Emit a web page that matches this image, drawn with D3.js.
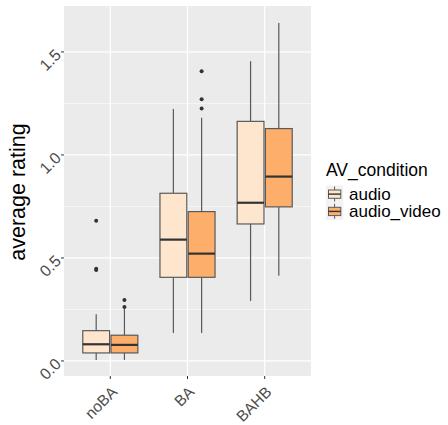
<!DOCTYPE html>
<html lang="en">
<head>
<meta charset="UTF-8">
<title>average rating by AV_condition</title>
<script src="https://cdn.jsdelivr.net/npm/d3@7"></script>
<style>
  body { margin: 0; background: #fff; }
  svg text { font-family: "Liberation Sans", Arial, sans-serif; }
</style>
</head>
<body>
<div id="chart"></div>
<script>
// ---- data ----
const categories = ["noBA", "BA", "BAHB"];
const conditions = ["audio", "audio_video"];
const condColors = ["#FEE6CE", "#FDAE6B"];
// [whiskerLow, q1, median, q3, whiskerHigh] per category, per condition
const audioStats = [
  [0.005, 0.039, 0.081, 0.147, 0.227],
  [0.136, 0.406, 0.589, 0.814, 1.223],
  [0.291, 0.665, 0.768, 1.163, 1.455]
];
const videoStats = [
  [0.005, 0.039, 0.078, 0.125, 0.252],
  [0.136, 0.406, 0.521, 0.725, 1.180],
  [0.414, 0.748, 0.895, 1.128, 1.640]
];
const audioOutliers = [[0.68, 0.442, 0.447], [], []];
const videoOutliers = [[0.296, 0.262], [1.406, 1.27, 1.225], []];
const yTicks = [0, 0.5, 1.0, 1.5];
const yMinor = [0.25, 0.75, 1.25];

// ---- layout ----
const W = 448, H = 425;
const panel = { left: 64, right: 311, top: 6, bottom: 376 };

const svg = d3.select("#chart").append("svg").attr("width", W).attr("height", H);

// discrete x like ggplot: 0.6 of a step of padding on each side
const x = d3.scalePoint().domain(categories)
  .range([panel.left, panel.right]).padding(0.6);
const step = x.step();
const dodge = d3.scaleBand().domain(conditions).range([-step * 0.375, step * 0.375]).padding(0.05);

const y = d3.scaleLinear().domain([-0.073, 1.723]).range([panel.bottom, panel.top]);

// panel + grid
svg.append("rect").attr("x", panel.left).attr("y", panel.top)
  .attr("width", panel.right - panel.left).attr("height", panel.bottom - panel.top)
  .attr("fill", "#EBEBEB");

svg.append("g").selectAll("line").data(yMinor).join("line")
  .attr("x1", panel.left).attr("x2", panel.right)
  .attr("y1", d => y(d)).attr("y2", d => y(d))
  .attr("stroke", "#fff").attr("stroke-width", 0.6);
svg.append("g").selectAll("line").data(yTicks).join("line")
  .attr("x1", panel.left).attr("x2", panel.right)
  .attr("y1", d => y(d)).attr("y2", d => y(d))
  .attr("stroke", "#fff").attr("stroke-width", 1.2);
svg.append("g").selectAll("line").data(categories).join("line")
  .attr("x1", d => x(d)).attr("x2", d => x(d))
  .attr("y1", panel.top).attr("y2", panel.bottom)
  .attr("stroke", "#fff").attr("stroke-width", 1.2);

// boxes
const boxes = [];
categories.forEach((c, i) => {
  boxes.push({ cat: c, cond: "audio", s: audioStats[i], out: audioOutliers[i], fill: condColors[0] });
  boxes.push({ cat: c, cond: "audio_video", s: videoStats[i], out: videoOutliers[i], fill: condColors[1] });
});

const g = svg.append("g");
boxes.forEach(b => {
  const x0 = x(b.cat) + dodge(b.cond);
  const bw = dodge.bandwidth();
  const mid = x0 + bw / 2;
  g.append("line").attr("x1", mid).attr("x2", mid)
    .attr("y1", y(b.s[3])).attr("y2", y(b.s[4]))
    .attr("stroke", "#595959").attr("stroke-width", 1.2);
  g.append("line").attr("x1", mid).attr("x2", mid)
    .attr("y1", y(b.s[0])).attr("y2", y(b.s[1]))
    .attr("stroke", "#595959").attr("stroke-width", 1.2);
  g.append("rect").attr("x", x0).attr("width", bw)
    .attr("y", y(b.s[3])).attr("height", y(b.s[1]) - y(b.s[3]))
    .attr("fill", b.fill).attr("stroke", "#595959").attr("stroke-width", 1.2);
  g.append("line").attr("x1", x0).attr("x2", x0 + bw)
    .attr("y1", y(b.s[2])).attr("y2", y(b.s[2]))
    .attr("stroke", "#333").attr("stroke-width", 2.2);
  g.selectAll(null).data(b.out).join("circle")
    .attr("cx", mid).attr("cy", d => y(d)).attr("r", 2)
    .attr("fill", "#333");
});

// axis ticks
svg.append("g").selectAll("line").data(yTicks).join("line")
  .attr("x1", panel.left - 3).attr("x2", panel.left)
  .attr("y1", d => y(d)).attr("y2", d => y(d))
  .attr("stroke", "#333").attr("stroke-width", 1);
svg.append("g").selectAll("line").data(categories).join("line")
  .attr("x1", d => x(d)).attr("x2", d => x(d))
  .attr("y1", panel.bottom).attr("y2", panel.bottom + 3)
  .attr("stroke", "#333").attr("stroke-width", 1);

// tick labels (rotated 45°)
svg.append("g").selectAll("text").data(yTicks).join("text")
  .attr("transform", d => `translate(${panel.left - 2},${y(d) + 4}) rotate(-45)`)
  .attr("text-anchor", "end")
  .attr("fill", "#4D4D4D").attr("font-size", 16)
  .text(d => d.toFixed(1));

svg.append("g").selectAll("text").data(categories).join("text")
  .attr("transform", d => `translate(${x(d)},${panel.bottom + 9}) rotate(-45)`)
  .attr("text-anchor", "end").attr("dy", "0.72em")
  .attr("fill", "#4D4D4D").attr("font-size", 15.5)
  .text(d => d);

// y title
svg.append("text")
  .attr("transform", `translate(25,${(panel.top + panel.bottom) / 2 + 1}) rotate(-90)`)
  .attr("text-anchor", "middle").attr("font-size", 21.5).attr("fill", "#000")
  .text("average rating");

// legend
const lg = svg.append("g").attr("transform", "translate(326,0)");
lg.append("text").attr("x", 0).attr("y", 176).attr("font-size", 17.5).attr("fill", "#000")
  .text("AV_condition");
conditions.forEach((c, i) => {
  const ky = 185.5 + i * 17.3;
  lg.append("rect").attr("x", 0).attr("y", ky).attr("width", 17.3).attr("height", 17.3)
    .attr("fill", "#F2F2F2");
  lg.append("line").attr("x1", 8.6).attr("x2", 8.6).attr("y1", ky + 1).attr("y2", ky + 16)
    .attr("stroke", "#595959").attr("stroke-width", 1);
  lg.append("rect").attr("x", 2.5).attr("y", ky + 4.5).attr("width", 12.3).attr("height", 8.3)
    .attr("fill", condColors[i]).attr("stroke", "#595959").attr("stroke-width", 1);
  lg.append("line").attr("x1", 2.5).attr("x2", 14.8).attr("y1", ky + 8.6).attr("y2", ky + 8.6)
    .attr("stroke", "#333").attr("stroke-width", 1.4);
  lg.append("text").attr("x", 23).attr("y", ky + 8.6).attr("dy", "0.35em")
    .attr("font-size", 17).attr("fill", "#000").text(c);
});
</script>
</body>
</html>
